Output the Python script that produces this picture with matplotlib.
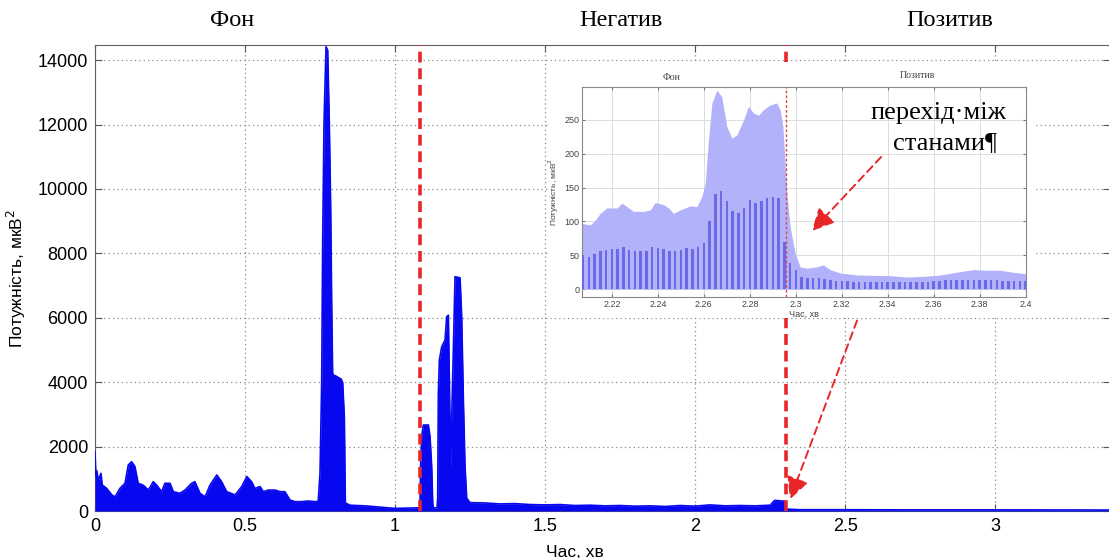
import numpy as np
import matplotlib
matplotlib.use('Agg')
import matplotlib.pyplot as plt
from matplotlib.patches import Rectangle, FancyArrowPatch

plt.rcParams['font.family'] = ['Liberation Sans', 'DejaVu Sans']
SERIF = ['Liberation Serif', 'DejaVu Serif']

# main record: power vs time (min)
t_main = [0, 0.003, 0.006, 0.011, 0.02, 0.024, 0.039, 0.056, 0.067, 0.083, 0.1, 0.111,
          0.122, 0.133, 0.144, 0.161, 0.178, 0.194, 0.206, 0.222, 0.233, 0.25, 0.261,
          0.283, 0.3, 0.322, 0.333, 0.35, 0.367, 0.383, 0.406, 0.422, 0.439, 0.467,
          0.489, 0.506, 0.522, 0.533, 0.55, 0.561, 0.578, 0.6, 0.617, 0.633, 0.65,
          0.667, 0.689, 0.711, 0.733, 0.744, 0.75, 0.7555, 0.7589, 0.7633, 0.77,
          0.7755, 0.781, 0.7855, 0.789, 0.792, 0.797, 0.799, 0.801, 0.81, 0.82,
          0.8255, 0.8311, 0.8344, 0.85, 0.9, 0.95, 1.0, 1.05, 1.083, 1.0856, 1.0889,
          1.0944, 1.1111, 1.1167, 1.1222, 1.1256, 1.1278, 1.14, 1.1422, 1.1444,
          1.1478, 1.1556, 1.1667, 1.1722, 1.1778, 1.1811, 1.1856, 1.1889, 1.1944,
          1.2, 1.2167, 1.2222, 1.2278, 1.2333, 1.2389, 1.25, 1.3, 1.35, 1.4, 1.45,
          1.5, 1.55, 1.6, 1.65, 1.7, 1.75, 1.8, 1.85, 1.9, 1.95, 2.0, 2.05, 2.1,
          2.15, 2.2, 2.25, 2.265, 2.28, 2.3, 2.303, 2.35, 2.5, 2.7, 3.0, 3.38]
p_main = [1840, 1100, 1250, 960, 1170, 810, 700, 500, 440, 700, 860, 1430,
          1530, 1380, 860, 800, 650, 910, 800, 600, 860, 860, 600,
          550, 650, 860, 910, 550, 440, 800, 1120, 910, 600, 500,
          760, 1070, 910, 700, 760, 600, 650, 650, 600, 600, 340,
          290, 290, 310, 290, 300, 1180, 3970, 8410, 12040, 14415,
          14310, 12040, 9450, 6340, 4280, 4200, 3080, 4200, 4150, 4100,
          3990, 2900, 250, 180, 160, 120, 80, 90, 100, 1500, 2310,
          2670, 2670, 2310, 1375, 250, 100, 100, 400, 3660,
          4690, 5100, 5310, 6030, 6080, 3970, 1270, 2930, 5000,
          7275, 7240, 6030, 3450, 1375, 400, 260, 250, 220, 230, 200,
          190, 200, 170, 180, 160, 170, 150, 160, 140, 170, 150, 190, 160,
          170, 160, 180, 330, 320, 300, 60, 40, 40, 35, 35, 30]
borders = [1.083, 2.303]
states = ['Фон', 'Негатив', 'Позитив']

# inset: zoom around the transition
t_env = [2.207, 2.2106, 2.2128, 2.2149, 2.2178, 2.2222, 2.2244, 2.2265, 2.2294, 2.2338,
         2.2367, 2.2388, 2.2425, 2.2446, 2.2468, 2.2497, 2.2541, 2.257, 2.2591, 2.2606,
         2.262, 2.2635, 2.2657, 2.2678, 2.27, 2.2722, 2.2744, 2.2773, 2.2794, 2.2816,
         2.2838, 2.2859, 2.2888, 2.2917, 2.2932, 2.2944, 2.2961, 2.2975, 2.2997, 2.3019,
         2.3048, 2.3091, 2.312, 2.3149, 2.3193, 2.3265, 2.341, 2.3483, 2.3555, 2.3628,
         2.3715, 2.3773, 2.383, 2.3888, 2.3946, 2.4]
p_env = [97, 95, 102, 112, 120, 120, 127, 122, 115, 115,
         117, 128, 125, 120, 112, 117, 123, 122, 137, 156,
         220, 275, 294, 284, 240, 223, 228, 250, 270, 260,
         257, 265, 272, 275, 265, 240, 142, 93, 53, 33,
         31, 33, 36, 29, 24, 21, 20, 18, 19, 21,
         26, 29, 28, 28, 25, 23]
p_bars = [50, 48, 52, 56, 58, 60, 60, 62, 58, 56,
          56, 57, 62, 61, 60, 57, 56, 58, 61, 60,
          62, 68, 100, 140, 145, 130, 115, 112, 120, 132,
          128, 130, 134, 136, 135, 70, 38, 28, 18, 16,
          16, 17, 15, 13, 12, 12, 12, 11, 11, 11,
          11, 10, 10, 10, 10, 10, 10, 10, 11, 11,
          11, 12, 12, 13, 13, 14, 14, 14, 14, 14,
          13, 13, 13, 12, 12, 12, 12, 12]
t_bars = 2.2075 + 0.0025 * np.arange(len(p_bars))
inset_border = 2.2958
inset_states = ['Фон', 'Позитив']

W, H = 1109, 558
fig = plt.figure(figsize=(W / 100, H / 100), dpi=100)


def fx(px):
    return px / W


def fy(py):
    return 1 - py / H


ax = fig.add_axes([fx(95), fy(511), fx(1110) - fx(95), fy(45) - fy(511)])
blue = '#0808f0'
ax.fill_between(t_main, 0, p_main, color=blue, lw=0, zorder=3)
ax.plot(t_main, p_main, color=blue, lw=1.2, zorder=3)
for b in borders:
    ax.axvline(b, color='#e8262a', lw=2.6, ls=(0, (3, 1.6)), zorder=4)
ax.set_xlim(0, 3.383)
ax.set_ylim(0, 14470)
ax.set_xticks([0, 0.5, 1, 1.5, 2, 2.5, 3])
ax.set_xticklabels(['0', '0.5', '1', '1.5', '2', '2.5', '3'])
ax.set_yticks(range(0, 14001, 2000))
ax.grid(True, color='#8a8a8a', ls=(0, (1, 2.5)), lw=0.9)
ax.tick_params(direction='in', top=True, right=True, length=5, labelsize=13, pad=5,
               color='#555555')
for s in ax.spines.values():
    s.set_color('#606060')
ax.set_xlabel('Час, хв', fontsize=12.5)
ax.set_ylabel('Потужність, мкВ$^2$', fontsize=12.5)
ax.xaxis.set_label_coords((575 - 95) / 1015, -0.072)
ax.yaxis.set_label_coords((28 - 95) / 1015, 0.5)

for lab, xp in zip(states, [232, 621, 950]):
    fig.text(fx(xp), fy(21), lab, family=SERIF, fontsize=17.5, ha='center', va='center')

# white backing of the inset picture
fig.patches.append(Rectangle((fx(548), fy(318)), fx(1036) - fx(548), fy(62) - fy(318),
                             transform=fig.transFigure, facecolor='white',
                             edgecolor='none', zorder=1))

axi = fig.add_axes([fx(582), fy(297), fx(1025.7) - fx(582), fy(86.7) - fy(297)], zorder=2)
axi.fill_between(t_env, 0, p_env, color='#b2b2fb', lw=0, zorder=2)
axi.bar(t_bars, p_bars, width=0.0011, color='#6a6ae6', lw=0, zorder=3)
axi.axvline(inset_border, color='#e04848', lw=1, ls=(0, (2, 1.5)), zorder=4)
axi.set_xlim(2.207, 2.4)
axi.set_ylim(-11.5, 299)
axi.set_xticks(np.round(np.arange(2.22, 2.401, 0.02), 2))
axi.set_xticklabels(['2.22', '2.24', '2.26', '2.28', '2.3', '2.32', '2.34', '2.36',
                     '2.38', '2.4'])
axi.set_yticks(range(0, 251, 50))
axi.grid(True, color='#dcdcdc', lw=0.7)
axi.set_axisbelow(True)
axi.tick_params(direction='in', top=True, right=True, length=2, labelsize=6.5,
                pad=2, labelcolor='#444444', color='#777777')
for s in axi.spines.values():
    s.set_color('#888888')
axi.set_xlabel('Час, хв', fontsize=6.5, color='#444444', labelpad=1)
axi.set_ylabel('Потужність, мкВ$^2$', fontsize=6, color='#444444', labelpad=2)
fig.text(fx(672), fy(77), inset_states[0], family=SERIF, fontsize=7, color='#444444',
         ha='center', va='center')
fig.text(fx(917), fy(75), inset_states[1], family=SERIF, fontsize=7, color='#444444',
         ha='center', va='center')

fig.text(fx(938), fy(113), 'перехід·між', family=SERIF, fontsize=19,
         ha='center', va='center', zorder=10)
fig.text(fx(945), fy(143), 'станами¶', family=SERIF, fontsize=19,
         ha='center', va='center', zorder=10)

for (x0, y0), (x1, y1) in [((883, 155), (810, 233)), ((858, 318), (789, 502))]:
    arr = FancyArrowPatch((fx(x0), fy(y0)), (fx(x1), fy(y1)), transform=fig.transFigure,
                          arrowstyle='-|>,head_length=0.9,head_width=0.45',
                          mutation_scale=15, color='#e8262a', lw=1.4,
                          ls=(0, (4, 2.5)), zorder=10)
    fig.add_artist(arr)

fig.savefig('out.png', dpi=100)
